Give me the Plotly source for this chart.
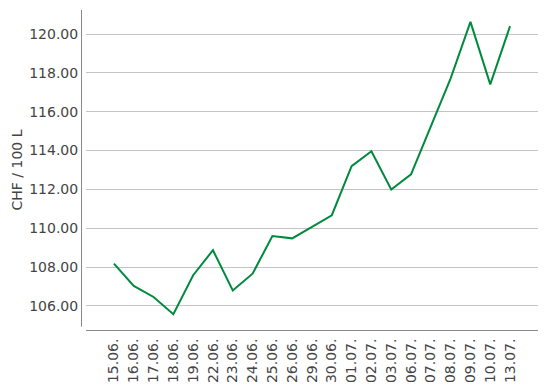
import plotly.graph_objects as go

dates = ["15.06.", "16.06.", "17.06.", "18.06.", "19.06.", "22.06.", "23.06.",
         "24.06.", "25.06.", "26.06.", "29.06.", "30.06.", "01.07.", "02.07.",
         "03.07.", "06.07.", "07.07.", "08.07.", "09.07.", "10.07.", "13.07."]
prices = [108.18, 107.03, 106.46, 105.57, 107.58, 108.87, 106.80,
          107.66, 109.60, 109.48, 110.07, 110.67, 113.20, 113.97,
          112.00, 112.78, 115.25, 117.72, 120.63, 117.41, 120.41]
y_ticks = [106, 108, 110, 112, 114, 116, 118, 120]

font_family = "DejaVu Sans"
text_color = "#444444"

fig = go.Figure()
fig.add_trace(go.Scatter(
    x=list(range(len(dates))), y=prices, mode="lines",
    line=dict(color="#008a3e", width=2), hoverinfo="skip", showlegend=False,
))

fig.update_layout(
    width=548, height=387,
    margin=dict(l=86, r=10, t=10, b=57),
    paper_bgcolor="white", plot_bgcolor="white",
    font=dict(family=font_family, size=14, color=text_color),
    xaxis=dict(
        range=[-1.41, len(dates) - 1 + 1.41],
        tickmode="array", tickvals=list(range(len(dates))), ticktext=dates,
        tickangle=-90, showgrid=False, zeroline=False,
        showline=True, linecolor="#888888", linewidth=1,
        ticks="outside", ticklen=2, tickcolor="rgba(0,0,0,0)",
        tickfont=dict(size=14, color=text_color),
        automargin=False, fixedrange=True,
    ),
    yaxis=dict(
        range=[104.76, 121.24],
        tickmode="array", tickvals=y_ticks,
        ticktext=[f"{v:.2f}" for v in y_ticks],
        showgrid=True, gridcolor="#c4c4c4", gridwidth=1,
        zeroline=False, showline=False,
        ticks="outside", ticklen=4, tickcolor="rgba(0,0,0,0)",
        tickfont=dict(size=14, color=text_color),
        title=dict(text="CHF / 100 L", font=dict(size=14, color=text_color), standoff=3),
        automargin=False, fixedrange=True,
    ),
    shapes=[dict(
        type="line", xref="paper", yref="paper",
        x0=-4.5 / 452, x1=-4.5 / 452, y0=3.3 / 320, y1=1,
        line=dict(color="#888888", width=1),
    )],
)

fig.write_html("out.html")
